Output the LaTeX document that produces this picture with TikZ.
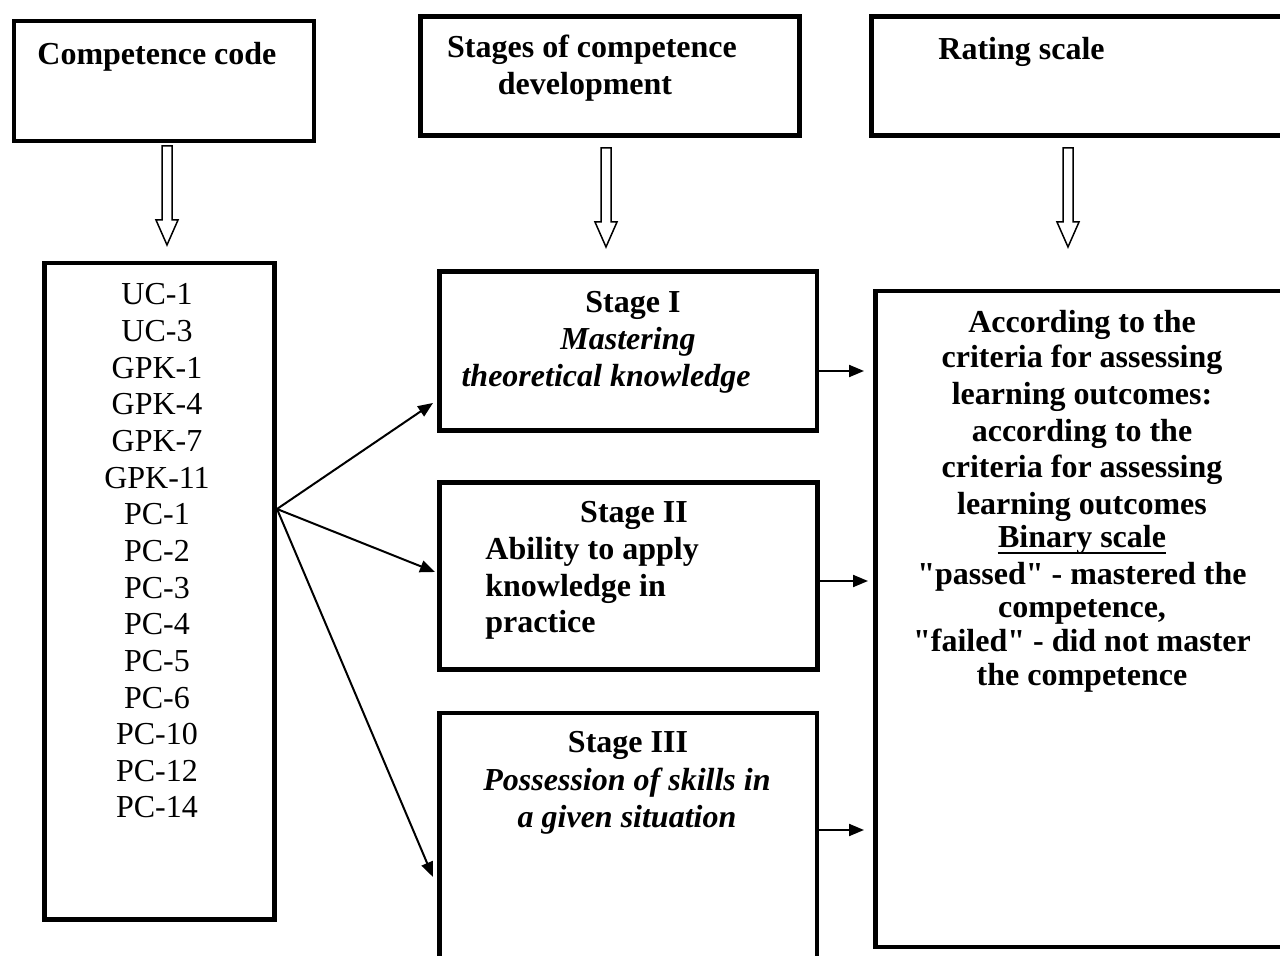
\documentclass[tikz,border=0pt]{standalone}
\usepackage{fontspec}
\setmainfont{Liberation Serif}[Ligatures=TeXOff]
\usetikzlibrary{arrows.meta,calc}
\tikzset{
 box/.style={draw, line width=2.25pt, rectangle, inner sep=0pt, outer sep=0pt},
 txt/.style={anchor=base, inner sep=0pt, font=\fontsize{16}{18}\selectfont},
 btxt/.style={txt, font=\fontsize{16}{18}\selectfont\bfseries},
 itxt/.style={txt, font=\fontsize{16}{18}\selectfont\bfseries\itshape},
 arr/.style={line width=1pt, -{Triangle[length=7.5pt,width=6pt]}},
 hollowstyle/.style={draw, line width=0.75pt, fill=white},
 hollowarrow/.pic={\draw[hollowstyle] (-5,0) -- (-5,74) -- (-11,74) -- (0,99) -- (11,74) -- (5,74) -- (5,0) -- cycle;}
}
\begin{document}
\begin{tikzpicture}[x=0.5pt,y=-0.5pt]
\useasboundingbox (0,0) rectangle (1280,956);
\clip (0,0) rectangle (1280,956);
% header boxes
\node[box, minimum width=150pt, minimum height=60pt] (b1) at (164,81) {};
\node[box, minimum width=189.5pt, minimum height=59.5pt] (b2) at (610,76) {};
\node[box, minimum width=214.25pt, minimum height=59.5pt] (b3) at (1085.75,76) {};
% lower boxes
\node[box, minimum width=115pt, minimum height=328.25pt] (ucbox) at (159.5,591.25) {};
\node[box, minimum width=188.75pt, minimum height=79.5pt] (s1) at (628.25,351) {};
\node[box, minimum width=189pt, minimum height=93.5pt] (s2) at (628.5,576) {};
\node[box, minimum width=188.75pt, minimum height=143.5pt] (s3) at (628.25,856.5) {};
\node[box, minimum width=212.25pt, minimum height=328pt] (big) at (1087.75,619) {};
% hollow arrows
\pic at (167,146) {hollowarrow};
\pic at (606,148) {hollowarrow};
\pic at (1068,148) {hollowarrow};
% header texts
\node[btxt, anchor=base west] (tcc) at (37,65) {Competence code};
\node[btxt] (tst1) at (592,58) {Stages of competence};
\node[btxt] (tst2) at (585,95) {development};
\node[btxt, anchor=base west] (trs) at (938,60) {Rating scale};
% code list
\foreach \t [count=\i from 0] in {UC-1,UC-3,GPK-1,GPK-4,GPK-7,GPK-11,PC-1,PC-2,PC-3,PC-4,PC-5,PC-6,PC-10,PC-12,PC-14}
  \node[txt] (code\i) at (157,{305+36.64*\i}) {\t};
% stage texts
\node[btxt] (s1a) at (633,313) {Stage I};
\node[itxt] (s1b) at (628,350) {Mastering};
\node[itxt] (s1c) at (606,387) {theoretical knowledge};
\node[btxt] (s2a) at (634,523) {Stage II};
\node[btxt, anchor=base west] (s2b) at (485,560) {Ability to apply};
\node[btxt, anchor=base west] (s2c) at (485,597) {knowledge in};
\node[btxt, anchor=base west] (s2d) at (485,633) {practice};
\node[btxt] (s3a) at (628,753) {Stage III};
\node[itxt] (s3b) at (627,790) {Possession of skills in};
\node[itxt] (s3c) at (627,827) {a given situation};
% rating text
\foreach \y/\t [count=\i] in {333/{According to the},368/{criteria for assessing},405/{learning outcomes:},442/{according to the},478/{criteria for assessing},515/{learning outcomes},548/{Binary scale},585/{"passed" - mastered the},618/{competence,},652/{"failed" - did not master},685/{the competence}}
  \node[btxt] (rt\i) at (1082,\y) {\t};
\draw[line width=1.3pt] ([yshift=-2.6pt]rt7.base west) -- ([yshift=-2.6pt]rt7.base east);
% connectors
\coordinate (src) at (277,509);
\coordinate (t1) at (433,403);
\coordinate (t2) at (435,572);
\coordinate (t3) at (433,877);
\draw[arr] (src) -- (t1);
\draw[arr] (src) -- (t2);
\draw[arr] (src) -- (t3);
\coordinate (r1) at (864,371);
\coordinate (r2) at (868,581);
\coordinate (r3) at (864,830);
\draw[arr] (s1.east |- r1) -- (r1);
\draw[arr] (s2.east |- r2) -- (r2);
\draw[arr] (s3.east |- r3) -- (r3);
\end{tikzpicture}
\end{document}
